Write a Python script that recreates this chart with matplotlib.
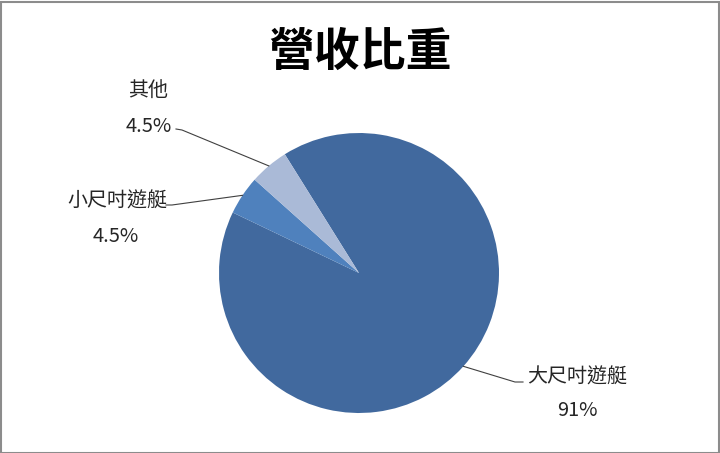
import numpy as np
import matplotlib
matplotlib.use("Agg")
import matplotlib.pyplot as plt
from matplotlib.patches import Rectangle

plt.rcParams['font.family'] = ['Noto Sans CJK TC', 'DejaVu Sans']

title = "營收比重"
categories = ["大尺吋遊艇", "小尺吋遊艇", "其他"]
values = [91, 4.5, 4.5]
pct_labels = ["91%", "4.5%", "4.5%"]
colors = ["#41699E", "#4F81BD", "#AABAD7"]

W, H = 720, 453
fig = plt.figure(figsize=(W / 100, H / 100), dpi=100)
ax = fig.add_axes([0, 0, 1, 1])
ax.set_xlim(0, W)
ax.set_ylim(0, H)
ax.set_aspect('equal')
ax.axis('off')

cx, cy, r = 359, H - 273, 140
start = 122
wedges, _ = ax.pie(values, colors=colors, startangle=start, counterclock=False,
                   radius=r, center=(cx, cy), frame=True,
                   wedgeprops=dict(linewidth=0))
ax.set_xlim(0, W)
ax.set_ylim(0, H)
ax.axis('off')

# border
fig.patches.append(Rectangle((0.5 / W, 0.5 / H), 1 - 2 / W, 1 - 2 / H, transform=fig.transFigure,
                             fill=False, edgecolor="#8C8C8C", linewidth=1.5))

ax.text(W / 2, H - 53, title, ha='center', va='center', fontsize=33,
        fontweight='bold', color='black')

# label layout: (elbow, end, name pos, pct pos, name ha)
layout = [
    ((515, H - 382), (523, H - 382), (527, H - 377), (577, H - 411), 'left'),
    ((172, H - 205), (166, H - 205), (167, H - 201), (116, H - 237), 'right'),
    ((182, H - 130), (176, H - 129), (148, H - 91), (149, H - 127), 'center'),
]
txt_color = "#262626"
for w, cat, pct, (elbow, end, npos, ppos, ha) in zip(wedges, categories, pct_labels, layout):
    mid = np.deg2rad((w.theta1 + w.theta2) / 2)
    p0 = (cx + r * np.cos(mid), cy + r * np.sin(mid))
    ax.plot([p0[0], elbow[0], end[0]], [p0[1], elbow[1], end[1]],
            color="#404040", linewidth=0.8)
    ax.text(npos[0], npos[1], cat, ha=ha, va='center', fontsize=14.4, color=txt_color)
    ax.text(ppos[0], ppos[1], pct, ha='center', va='center', fontsize=14.4, color=txt_color)

fig.savefig("out.png", dpi=100)
